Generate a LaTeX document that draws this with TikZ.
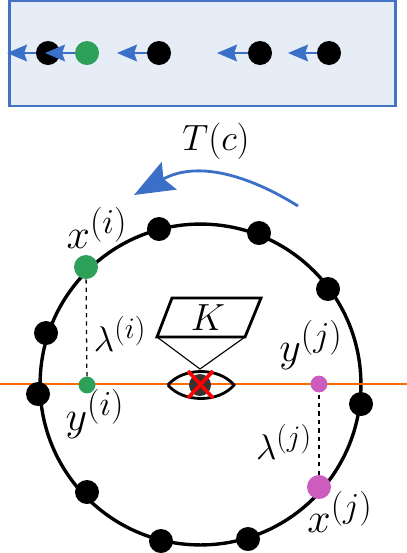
\documentclass[tikz,border=0pt]{standalone}
\usepackage{amsmath}
\usetikzlibrary{arrows.meta, calc}
\definecolor{paleblue}{HTML}{E7EDF7}
\definecolor{boxblue}{HTML}{4472C4}
\definecolor{arrowblue}{HTML}{3A70C8}
\definecolor{dotgreen}{HTML}{2DA05A}
\definecolor{dotpink}{HTML}{CC5CBE}
\definecolor{lineorange}{HTML}{FF6A00}
\tikzset{
	blackdot/.style={circle, fill=black, inner sep=0pt, minimum size=0.6cm}
}
\tikzset{
	greendot/.style={circle, fill=dotgreen, inner sep=0pt, minimum size=0.6cm}
}
\tikzset{
	pinkdot/.style={circle, fill=dotpink, inner sep=0pt, minimum size=0.6cm}
}
\tikzset{
	movearrow/.style={arrowblue, line width=1pt, -{Stealth[length=0.5cm, width=0.42cm, inset=0.07cm]}}
}
\tikzset{
	mathlabel/.style={font=\Huge, scale=1.2, inner sep=0pt}
}
\begin{document}
\begin{tikzpicture}[x=0.025cm, y=-0.025cm]
      \useasboundingbox (0,0) rectangle (407,553);
      % strip at the top
      \node[draw=boxblue, line width=1.6pt, fill=paleblue, minimum width=9.65cm, minimum height=2.62cm, inner sep=0pt] (strip) at (202.5,53.5) {};
      \foreach \name/\xpos/\tipx in {sa/48/7, sc/159/117, sd/260/217, se/329/288} {
        \node[blackdot] (\name) at (\xpos,53) {};
        \coordinate (\name tip) at (\tipx,53);
      }
      \node[greendot] (sb) at (87,53) {};
      \coordinate (sbtip) at (45,53);
      \foreach \name in {sa, sb, sc, sd, se} {
        \draw[movearrow] (\name) -- (\name tip);
      }

      % the ring of points
      \node[draw, line width=2.4pt, circle, minimum size=8.02cm, inner sep=0pt] (ring) at (200.5,384.5) {};
      \draw[lineorange, line width=1.7pt] (0,384) coordinate (horizl) -- (407,384) coordinate (horizr);
      \foreach \name/\xpos/\ypos in {ra/159/229, rb/259/233, rc/328/289, rd/361/404, re/248/539, rf/161/541, rg/87/492, rh/38/394, ri/46/333} {
        \node[blackdot] (\name) at (\xpos,\ypos) {};
      }
      \node[greendot] (xi) at (86,267) {};
      \node[pinkdot] (xj) at (319,487) {};
      \node[greendot, minimum size=0.42cm] (yi) at (87,385) {};
      \node[pinkdot, minimum size=0.42cm] (yj) at (319,384) {};
      \draw[dashed, line width=0.9pt] (xi) -- (yi);
      \draw[dashed, line width=0.9pt] (xj) -- (yj);

      % eye with the crossed out point
      \coordinate (eyel) at (168,385);
      \coordinate (eyer) at (234,385);
      \node[circle, fill=black!80, inner sep=0pt, minimum size=0.55cm] (eyedot) at (200,385) {};
      \draw[line width=2pt] (eyel) .. controls (183,367) and (219,367) .. (eyer) .. controls (219,403) and (183,403) .. (eyel);
      \draw[red, line width=2.6pt] (188,371) coordinate (xa) -- (213,398) coordinate (xb);
      \draw[red, line width=2.6pt] (213,371) coordinate (xc) -- (188,398) coordinate (xd);

      % camera frustum
      \coordinate (apex) at (200,369);
      \coordinate (kbl) at (157,337);
      \coordinate (kbr) at (245,337);
      \coordinate (ktr) at (261,298);
      \coordinate (ktl) at (172,298);
      \draw[line width=2pt] (kbl) -- (kbr) -- (ktr) -- (ktl) -- cycle;
      \draw[line width=0.8pt] (kbl) -- (apex) -- (kbr);
      \node[mathlabel, scale=0.9] (klabel) at (208,318) {$K$};

      % rotation
      \coordinate (rotstart) at (298,206);
      \coordinate (rotend) at (134,195);
      \draw[arrowblue, line width=2pt, -{Stealth[length=1cm, width=0.78cm, inset=0.16cm]}] (rotstart) .. controls (250,176) and (198,160) .. (rotend);
      \node[mathlabel, scale=0.87] (tlabel) at (216,141) {$T(c)$};

      \node[mathlabel] (xilabel) at (97,228) {$x^{(i)}$};
      \node[mathlabel] (xjlabel) at (340,512) {$x^{(j)}$};
      \node[mathlabel] (yilabel) at (95,414) {$y^{(i)}$};
      \node[mathlabel] (yjlabel) at (311,345) {$y^{(j)}$};
      \node[mathlabel, scale=0.85] (lilabel) at (120,334) {$\lambda^{(i)}$};
      \node[mathlabel, scale=0.85] (ljlabel) at (284,442) {$\lambda^{(j)}$};
    \end{tikzpicture}
\end{document}
